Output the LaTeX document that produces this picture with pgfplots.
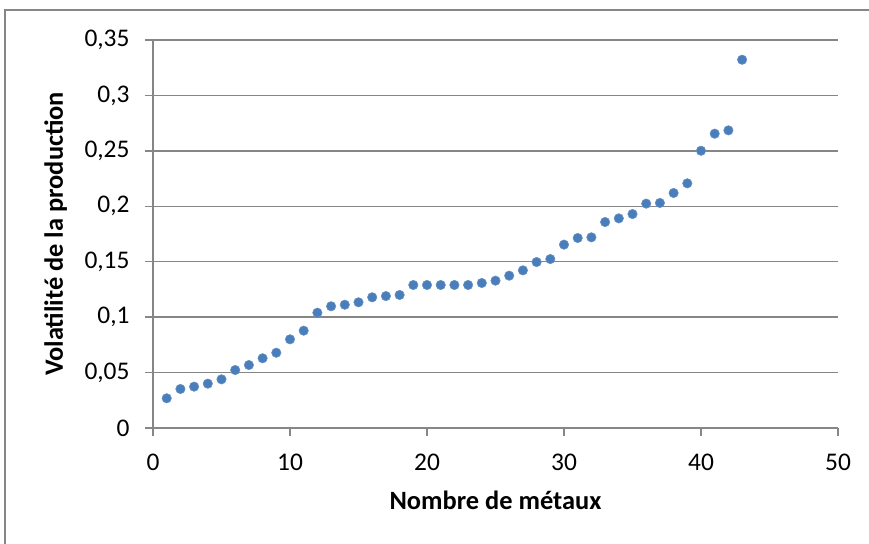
\documentclass[border=0pt]{standalone}
\usepackage{fontspec}
\setmainfont{Carlito}
\usepackage{pgfplots}
\pgfplotsset{compat=1.18}
\definecolor{gridgray}{RGB}{134,134,134}
\definecolor{ptblue}{RGB}{74,126,187}
\begin{document}
\begin{tikzpicture}
\useasboundingbox (0,0) rectangle (869bp,544bp);
\draw[gridgray, line width=1.2bp] (5bp,534bp) rectangle (900bp,-40bp);
\begin{axis}[
  at={(153bp,116bp)}, anchor=south west,
  scale only axis, width=685bp, height=388bp,
  xmin=0, xmax=50, ymin=0, ymax=0.35,
  xtick={0,10,20,30,40,50},
  ytick={0,0.05,0.1,0.15,0.2,0.25,0.3,0.35},
  yticklabels={0,{0,05},{0,1},{0,15},{0,2},{0,25},{0,3},{0,35}},
  axis x line*=bottom, axis y line*=left,
  axis line style={-, draw=gridgray, line width=1.3bp},
  ymajorgrids, grid style={draw=gridgray, line width=1.3bp},
  tick align=outside, major tick length=8bp,
  every tick/.style={draw=gridgray, line width=1.3bp},
  /pgf/number format/assume math mode=true,
  tick label style={font=\fontsize{25.5}{30}\selectfont, text=black},
  xticklabel style={yshift=-14bp},
  yticklabel style={xshift=-12bp},
  xlabel={Nombre de métaux},
  ylabel={Volatilité de la production},
  label style={font=\fontsize{26.5}{31}\selectfont\bfseries},
  xlabel style={at={(axis description cs:0.5,-0.2113)}, anchor=base},
  ylabel style={at={(axis description cs:-0.1314,0.5)}, anchor=base},
  clip=false,
]
\addplot[only marks, mark=*, mark size=4.7bp, mark options={fill=ptblue, draw=ptblue!85!white, line width=0.6bp}] coordinates {
(1,0.0268) (2,0.0352) (3,0.0373) (4,0.0400) (5,0.0439)
(6,0.0523) (7,0.0568) (8,0.0629) (9,0.0679) (10,0.0800)
(11,0.0878) (12,0.1040) (13,0.1098) (14,0.1112) (15,0.1134)
(16,0.1179) (17,0.1190) (18,0.1200) (19,0.1290) (20,0.1290)
(21,0.1290) (22,0.1290) (23,0.1290) (24,0.1308) (25,0.1329)
(26,0.1374) (27,0.1422) (28,0.1497) (29,0.1524) (30,0.1654)
(31,0.1714) (32,0.1720) (33,0.1858) (34,0.1891) (35,0.1930)
(36,0.2024) (37,0.2030) (38,0.2120) (39,0.2207) (40,0.2501)
(41,0.2655) (42,0.2685) (43,0.3322)
};
\end{axis}
\end{tikzpicture}
\end{document}
